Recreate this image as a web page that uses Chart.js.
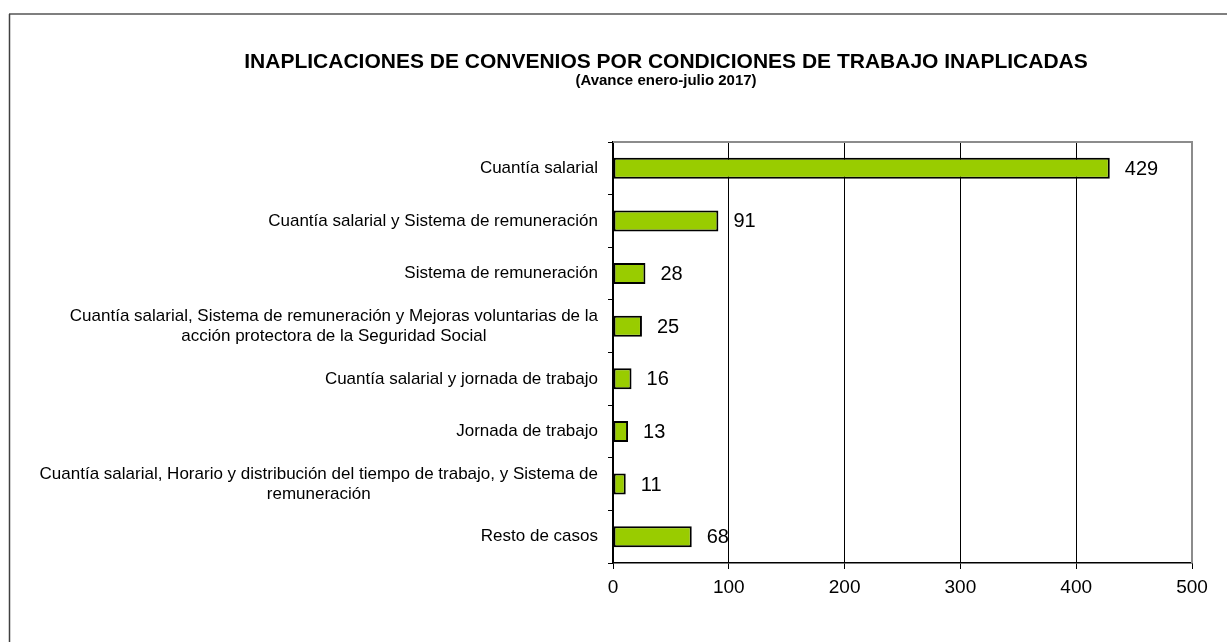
<!DOCTYPE html>
<html>
<head>
<meta charset="utf-8">
<script src="https://cdn.jsdelivr.net/npm/chart.js@4"></script>
<style>
  html, body { margin: 0; padding: 0; background: #ffffff; }
  #wrap { position: relative; width: 1227px; height: 642px; }
</style>
</head>
<body>
<div id="wrap"><canvas id="c" width="1227" height="642"></canvas></div>
<script>
const titleText = "INAPLICACIONES DE CONVENIOS POR CONDICIONES DE TRABAJO INAPLICADAS";
const subtitleText = "(Avance enero-julio 2017)";
const categories = [
  ["Cuantía salarial"],
  ["Cuantía salarial y Sistema de remuneración"],
  ["Sistema de remuneración"],
  ["Cuantía salarial, Sistema de remuneración y Mejoras voluntarias de la", "acción protectora de la Seguridad Social"],
  ["Cuantía salarial y jornada de trabajo"],
  ["Jornada de trabajo"],
  ["Cuantía salarial, Horario y distribución del tiempo de trabajo, y Sistema de", "remuneración"],
  ["Resto de casos"]
];
const values = [429, 91, 28, 25, 16, 13, 11, 68];
const xTicks = [0, 100, 200, 300, 400, 500];

const FONT = "'Liberation Sans', Arial, sans-serif";

const framePlugin = {
  id: 'frame',
  beforeDraw(chart) {
    const ctx = chart.ctx;
    ctx.save();
    ctx.fillStyle = '#ffffff';
    ctx.fillRect(0, 0, chart.width, chart.height);
    ctx.strokeStyle = '#7f7f7f';
    ctx.lineWidth = 2;
    ctx.beginPath();
    ctx.moveTo(9, 14);
    ctx.lineTo(chart.width + 5, 14);
    ctx.stroke();
    ctx.strokeStyle = '#404040';
    ctx.lineWidth = 1.5;
    ctx.beginPath();
    ctx.moveTo(9.5, 14);
    ctx.lineTo(9.5, chart.height + 5);
    ctx.stroke();
    ctx.fillStyle = '#000000';
    ctx.textAlign = 'center';
    ctx.textBaseline = 'middle';
    ctx.font = 'bold 21px ' + FONT;
    ctx.fillText(titleText, 666, 62);
    ctx.font = 'bold 15px ' + FONT;
    ctx.fillText(subtitleText, 666, 81);
    ctx.restore();
  },
  afterDatasetsDraw(chart) {
    const ctx = chart.ctx;
    const area = chart.chartArea;
    const yScale = chart.scales.y;
    ctx.save();
    ctx.strokeStyle = '#8c8c8c';
    ctx.lineWidth = 2;
    ctx.beginPath();
    ctx.moveTo(area.left, area.top);
    ctx.lineTo(area.right, area.top);
    ctx.lineTo(area.right, area.bottom);
    ctx.stroke();
    ctx.fillStyle = '#000000';
    ctx.font = '20px ' + FONT;
    ctx.textAlign = 'left';
    ctx.textBaseline = 'middle';
    const meta = chart.getDatasetMeta(0);
    meta.data.forEach((bar, i) => {
      ctx.fillText(String(values[i]), bar.x + 15, bar.y + 1);
    });
    ctx.font = '17px ' + FONT;
    ctx.textAlign = 'center';
    const rightEdge = area.left - 15;
    const lh = 20;
    categories.forEach((lines, i) => {
      const cy = yScale.getPixelForValue(i);
      const maxW = Math.max(...lines.map(l => ctx.measureText(l).width));
      const cx = rightEdge - maxW / 2;
      const startY = cy - (lines.length - 1) * lh / 2;
      lines.forEach((l, j) => ctx.fillText(l, cx, startY + j * lh));
    });
    ctx.restore();
  }
};

new Chart(document.getElementById('c'), {
  type: 'bar',
  data: {
    labels: categories.map(c => c.join(' ')),
    datasets: [{
      data: values,
      backgroundColor: '#99cc00',
      borderColor: '#000000',
      borderWidth: 2,
      borderSkipped: false,
      barPercentage: 0.4,
      categoryPercentage: 1.0
    }]
  },
  options: {
    indexAxis: 'y',
    responsive: false,
    animation: false,
    events: [],
    layout: { padding: { top: 142, right: 35, bottom: 0, left: 0 } },
    plugins: { legend: { display: false }, title: { display: false }, tooltip: { enabled: false } },
    scales: {
      x: {
        min: 0, max: 500,
        afterBuildTicks(scale) { scale.ticks = xTicks.map(v => ({ value: v })); },
        afterFit(scale) { scale.height = 79; },
        grid: { color: '#000000', lineWidth: 1, tickLength: 6, tickColor: '#000000' },
        border: { color: '#000000', width: 1.5 },
        ticks: { color: '#000000', font: { family: FONT, size: 19 }, padding: 7, maxRotation: 0 }
      },
      y: {
        offset: true,
        afterFit(scale) { scale.width = 613; },
        grid: { offset: true, drawOnChartArea: false, tickLength: 5, color: '#000000' },
        border: { color: '#000000', width: 1.5 },
        ticks: { display: false }
      }
    }
  },
  plugins: [framePlugin]
});
</script>
</body>
</html>
